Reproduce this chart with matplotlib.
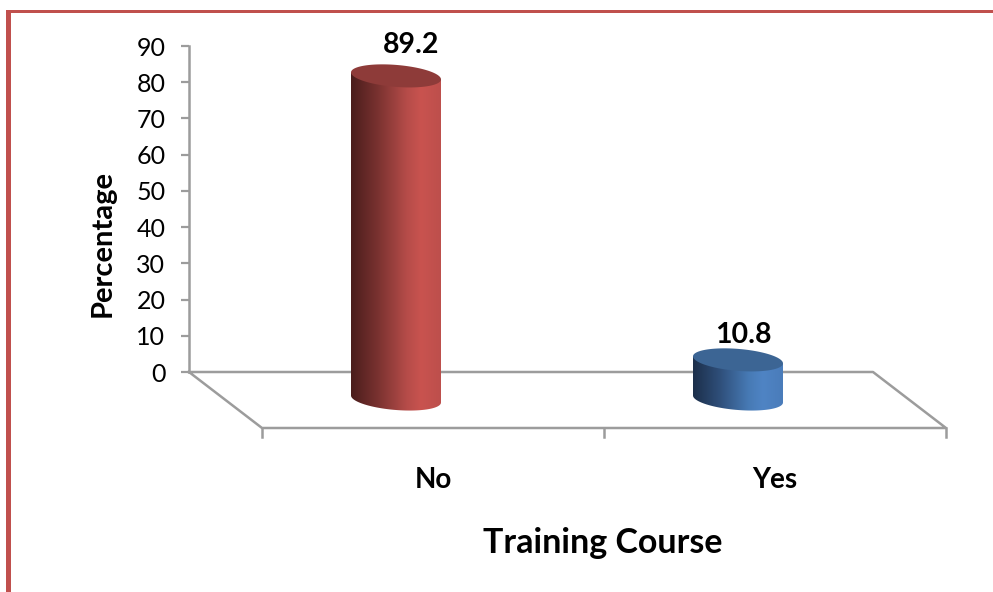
import numpy as np
import matplotlib
matplotlib.use('Agg')
import matplotlib.pyplot as plt
from matplotlib.colors import LinearSegmentedColormap
from matplotlib.patches import Polygon, Rectangle

plt.rcParams['font.family'] = ['Lato', 'DejaVu Sans']

# Data
categories = ['No', 'Yes']
values = [89.2, 10.8]
y_ticks = [0, 10, 20, 30, 40, 50, 60, 70, 80, 90]

W, H = 993, 592
GREY = '#9c9c9c'
RED = '#c0504d'

# gradient stops and top colour of each cylinder
ramps = [['#4a1d1c', '#7a3230', '#b54c49', '#c9534f', '#bd4f4c'],
         ['#1c2f4a', '#2f4f7a', '#477ab5', '#4f84c4', '#4a7cba']]
top_colors = ['#8e3b39', '#3c6594']

fig = plt.figure(figsize=(W / 100, H / 100), dpi=100)

# outer frame of the slide
fig.patches.append(Rectangle((6 / W, 1 - 13 / H), (W - 6) / W, 3 / H, transform=fig.transFigure, color=RED, lw=0))
fig.patches.append(Rectangle((6 / W, 0), 5 / W, 1 - 10 / H, transform=fig.transFigure, color=RED, lw=0))

# axes = back wall of the 3d chart, 189..873 px wide and 46..372 px down
ax = fig.add_axes([189 / W, 1 - 372 / H, 684 / W, 326 / H])
ax.set_xlim(-0.5, 1.5)
ax.set_ylim(0, 90)
ax.patch.set_alpha(0)
px_x = 2 / 684
px_y = 90 / 326

for side in ['top', 'right', 'bottom']:
    ax.spines[side].set_visible(False)
ax.spines['left'].set_color(GREY)
ax.spines['left'].set_linewidth(1.8)
ax.set_xticks([])
ax.set_yticks(y_ticks)
ax.tick_params(axis='y', length=6, width=1.6, color=GREY, labelsize=18, pad=11, labelcolor='black')

# floor of the chart, front edge shifted by the depth offset
dx, dy = 73 * px_x, -56 * px_y
fx = [-0.5, 1.5, 1.5 + dx, -0.5 + dx, -0.5]
fy = [0, 0, dy, dy, 0]
ax.plot(fx, fy, color=GREY, lw=1.8, clip_on=False, zorder=1)
for k in range(3):
    ax.plot([-0.5 + k + dx] * 2, [dy, dy - 9 * px_y], color=GREY, lw=1.8, clip_on=False, zorder=1)

# cylinders
a = 45 * px_x
b = 11 * px_y
skew = 3.5 * px_y
base_y = -27 * px_y
bar_shift = 36 * px_x
t = np.linspace(0, 2 * np.pi, 121)
label_dx = [15, 5]
label_dy = [31, 25]

for i, val in enumerate(values):
    cx = i + bar_shift
    top = val + base_y
    ex = cx + a * np.cos(t)
    skew_part = skew * np.cos(t)
    # lower half of the base joined to the left and right edges
    low = np.linspace(np.pi, 2 * np.pi, 61)
    bx = cx + a * np.cos(low)
    by = base_y + b * np.sin(low) - skew * np.cos(low)
    body = np.column_stack([np.r_[cx - a, bx, cx + a], np.r_[top + skew, by, top - skew]])
    clip = Polygon(body, transform=ax.transData, fc='none', ec='none')
    clip.set_clip_on(False)
    ax.add_patch(clip)
    cmap = LinearSegmentedColormap.from_list('c', list(zip([0, 0.3, 0.62, 0.78, 1], ramps[i])))
    img = ax.imshow(np.linspace(0, 1, 256).reshape(1, -1), cmap=cmap, aspect='auto',
                    extent=[cx - a, cx + a, base_y - 2 * b, top + 2 * b], zorder=2)
    img.set_clip_path(clip)
    img.set_clip_box(fig.bbox)
    ax.fill(ex, top + b * np.sin(t) - skew_part, color=top_colors[i], lw=0, zorder=3, clip_on=False)
    ax.annotate(f'{val}', xy=(cx, top), xytext=(label_dx[i] * 0.72, label_dy[i] * 0.72),
                textcoords='offset points', ha='center', va='center',
                fontsize=20.5, fontweight='bold', annotation_clip=False)
    # category label sits under the front edge
    ax.text(i + dx, -107.5 * px_y, categories[i], ha='center', va='center', fontsize=20, fontweight='bold')

ax.set_xlim(-0.5, 1.5)
ax.set_ylim(0, 90)

fig.text(103 / W, 1 - 243 / H, 'Percentage', rotation=90, ha='center', va='center', fontsize=21, fontweight='bold')
fig.text(603 / W, 1 - 543 / H, 'Training Course', ha='center', va='center', fontsize=24.5, fontweight='bold')

fig.savefig('out.png', dpi=100)
